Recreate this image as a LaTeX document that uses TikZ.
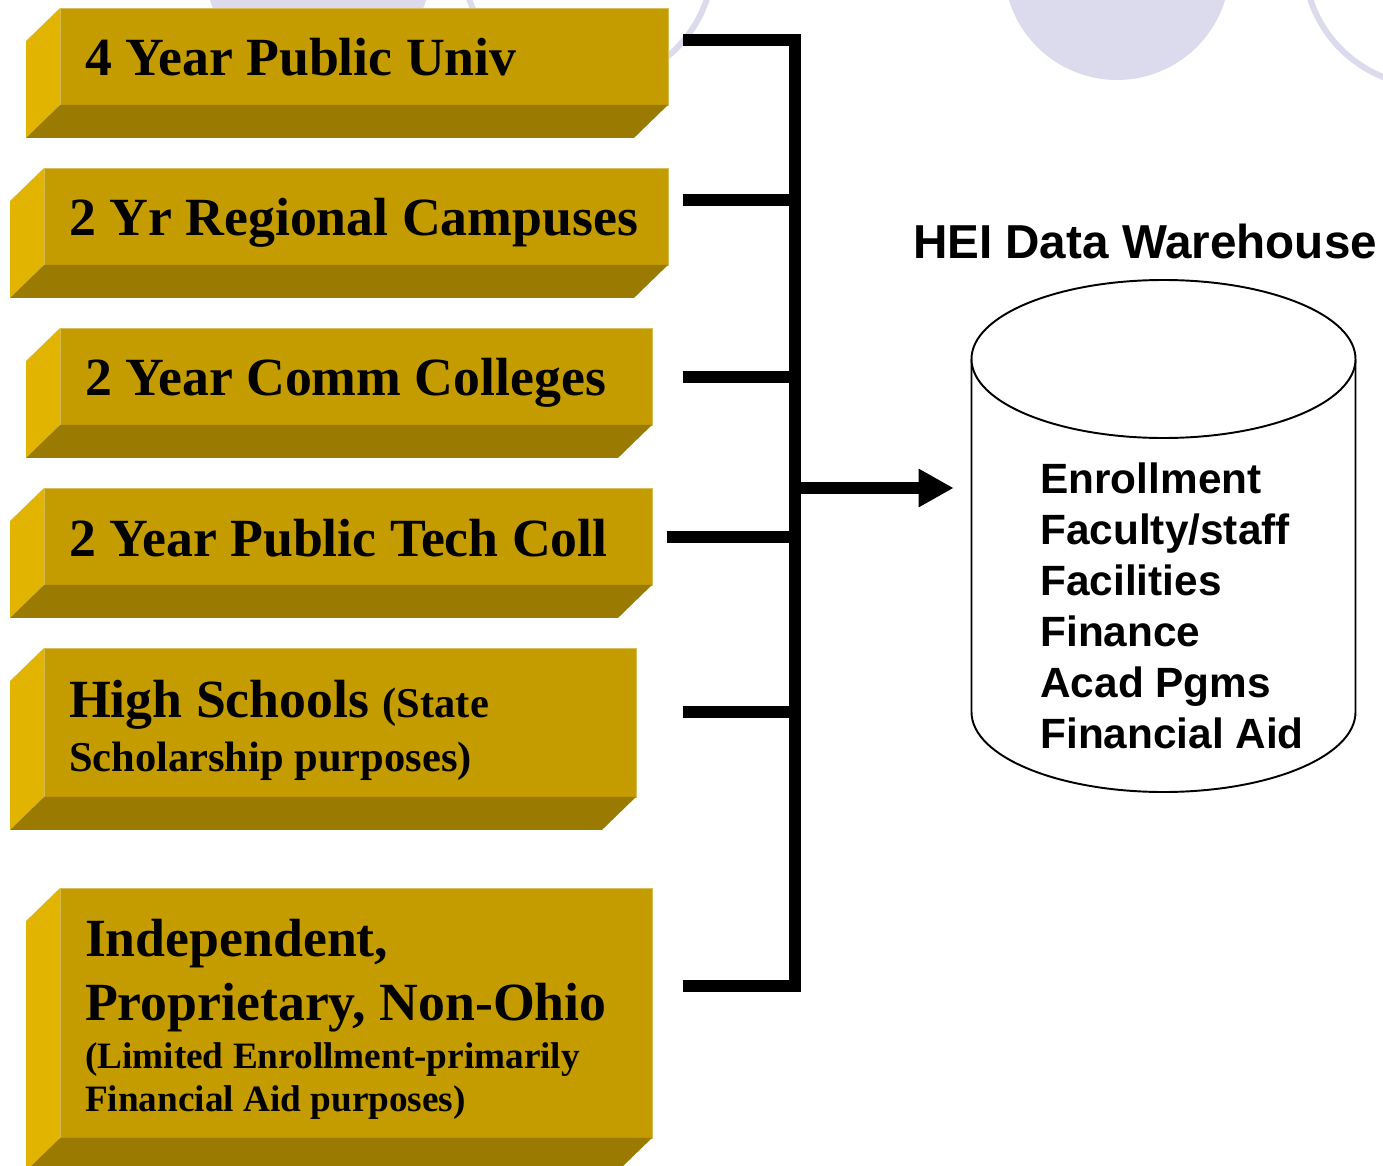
\documentclass[tikz,border=0pt]{standalone}
\usepackage{fontspec}
\usepackage{tikz}
\usetikzlibrary{arrows.meta,calc}
\setmainfont{Liberation Serif}
\newfontfamily\hdrfont{Liberation Sans}

\definecolor{facec}{RGB}{196,156,0}
\definecolor{sidec}{RGB}{224,180,0}
\definecolor{basec}{RGB}{154,122,0}
\definecolor{edgec}{RGB}{214,188,90}
\definecolor{halo}{RGB}{220,219,238}

\begin{document}
\begin{tikzpicture}[x=0.02cm, y=-0.02cm,
				face/.style={rectangle, fill=facec, draw=edgec, line width=0.5pt, outer sep=0pt,
					align=left, inner xsep=0.5cm, inner ysep=0pt, font=\bfseries,
					execute at begin node={\spaceskip=0pt\xspaceskip=0pt\hyphenpenalty=10000}},
				oneline/.style={text height=0.78cm, text depth=0pt, font=\bfseries\fontsize{30.6}{36}\selectfont},
				bus/.style={line width=0.23cm},
				cyl/.style={draw, line width=1.1pt, fill=white},
				title/.style={font=\hdrfont\bfseries\fontsize{27.1}{32}\selectfont, inner sep=0pt},
				dwtext/.style={font=\hdrfont\bfseries\fontsize{24.1}{29.1}\selectfont, align=left, inner sep=0pt}]
	\useasboundingbox (0,0) rectangle (1383,1166);
	\fill[halo] (318,-33) circle[radius=113];
	\draw[halo, line width=0.12cm] (588,-40) circle[radius=125];
	\fill[halo] (1117,-33) circle[radius=113];
	\draw[halo, line width=0.12cm] (1430,-40) circle[radius=126];

	\node[face, oneline, text width=11.16cm, minimum height=1.94cm] (b1) at (364,56.5) {4 Year Public Univ};
	\node[face, oneline, text width=11.48cm, minimum height=1.94cm] (b2) at (356,216.5) {2 Yr Regional Campuses};
	\node[face, oneline, text width=10.84cm, minimum height=1.94cm] (b3) at (356,376.5) {2 Year Comm Colleges};
	\node[face, oneline, text width=11.16cm, minimum height=1.94cm] (b4) at (348,536.5) {2 Year Public Tech Coll};
	\node[face, text width=10.84cm, minimum height=2.98cm] (b5) at (340,722.5)
		{{\fontsize{30.6}{36}\selectfont High Schools {\fontsize{24.2}{29}\selectfont (State}\par}%
		{\fontsize{24.2}{30.7}\selectfont Scholarship purposes)\par}\kern-0.3cm};
	\node[face, text width=10.84cm, minimum height=5cm] (b6) at (356,1013)
		{{\fontsize{30.6}{36}\selectfont Independent,\par}%
		{\fontsize{30.6}{36.4}\selectfont Proprietary, Non-Ohio\par}%
		{\fontsize{21.2}{27.1}\selectfont (Limited Enrollment-primarily\par}%
		{\fontsize{21.2}{25}\selectfont Financial Aid purposes)\par}\kern-0.26cm};
	\foreach \b in {b1,b2,b3,b4,b5,b6}{
		\fill[sidec] (\b.north west) -- ++(-34,33) -- ($(\b.south west)+(-34,33)$) -- (\b.south west) -- cycle;
		\fill[basec] (\b.south west) -- (\b.south east) -- ++(-34,33) -- ($(\b.south west)+(-34,33)$) -- cycle;
	}

	\node[minimum width=7.68cm, minimum height=10.24cm, inner sep=0pt] (dw) at (1163.5,536) {};
	\draw[cyl] (971.5,359) -- (971.5,712) arc[start angle=180, end angle=0, x radius=192, y radius=80] -- (1355.5,359);
	\draw[cyl] (1163.5,359) ellipse[x radius=192, y radius=79];
	\node[title, anchor=base] (ttl) at (1145,258) {HEI Data Warehouse};
	\node[dwtext, anchor=north west] (dwl) at (1040,462) {Enrollment\\Faculty/staff\\Facilities\\Finance\\Acad Pgms\\Financial Aid};

	\coordinate (s1) at (683,40);  \coordinate (j1) at (795,40);
	\coordinate (s2) at (683,200); \coordinate (j2) at (795,200);
	\coordinate (s3) at (683,377); \coordinate (j3) at (795,377);
	\coordinate (s4) at (667,537); \coordinate (j4) at (795,537);
	\coordinate (s5) at (683,712); \coordinate (j5) at (795,712);
	\coordinate (s6) at (683,986); \coordinate (j6) at (795,986);
	\coordinate (hub) at (795,488);
	\foreach \i in {1,...,6}
		\draw[bus] (s\i) -- (j\i);
	\draw[bus, line cap=rect] (j1) -- (j6);
	\draw[bus, -{Triangle[length=0.7cm, width=0.72cm]}, shorten >=0.35cm] (hub) -- (hub -| dw.west);
\end{tikzpicture}
\end{document}
